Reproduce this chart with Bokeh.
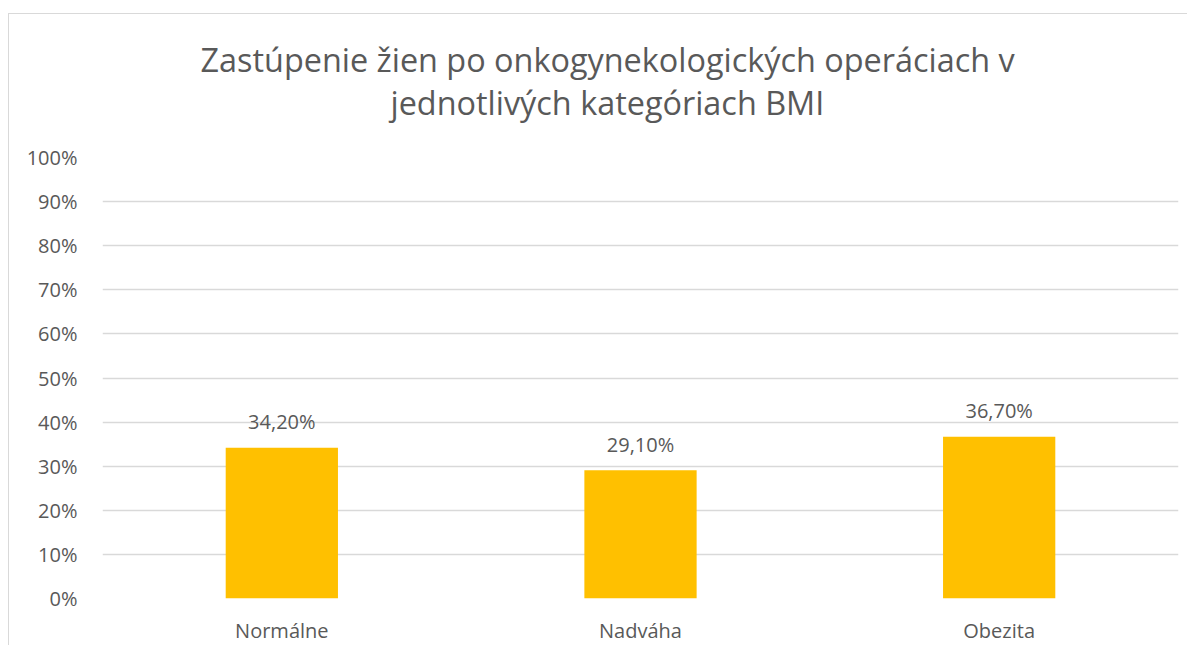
from bokeh.plotting import figure
from bokeh.models import ColumnDataSource, FixedTicker, PrintfTickFormatter, Title, Range1d, FactorRange
from bokeh.embed import file_html
from bokeh.resources import INLINE

categories = ["Normálne", "Nadváha", "Obezita"]
values = [34.2, 29.1, 36.7]
y_ticks = [0, 10, 20, 30, 40, 50, 60, 70, 80, 90, 100]
title_line1 = "Zastúpenie žien po onkogynekologických operáciach v"
title_line2 = "jednotlivých kategóriach BMI"

labels = [f"{v:.2f}".replace(".", ",") + "%" for v in values]
src = ColumnDataSource(dict(cat=categories, val=values, lab=labels))

FONT = "Open Sans"
GREY = "#595959"

p = figure(x_range=FactorRange(*categories, range_padding=0), y_range=Range1d(0, 100),
           width=1179, height=632, output_backend="svg", toolbar_location=None,
           min_border_left=93, min_border_right=10, min_border_bottom=46, min_border_top=143)
p.styles = {"border-top": "1px solid #D9D9D9", "border-left": "1px solid #D9D9D9",
            "margin": "13px 0px 0px 8px"}

p.title.text = title_line1
p.title.align = "left"
p.title.text_font = FONT
p.title.text_font_size = "32.4px"
p.title.text_font_style = "normal"
p.title.text_color = GREY
p.title.standoff = -73
p.title.offset = 98
t2 = Title(text=title_line2, align="left", text_font=FONT, text_font_size="32.4px",
           text_font_style="normal", text_color=GREY, standoff=67, offset=288)
p.add_layout(t2, "above")

p.vbar(x="cat", top="val", width=0.313, source=src, color="#FFC000", line_color=None)
p.text(x="cat", y="val", text="lab", source=src, text_align="center", text_baseline="alphabetic",
       y_offset=-26, text_font_size="20px", text_color=GREY, text_font={"value": FONT})

p.outline_line_color = None
p.background_fill_color = "white"
p.border_fill_color = "white"
p.xgrid.grid_line_color = None
p.ygrid.grid_line_color = "#D9D9D9"
p.ygrid.grid_line_width = 1.3
p.yaxis.ticker = FixedTicker(ticks=y_ticks)
p.yaxis.formatter = PrintfTickFormatter(format="%d%%")
for ax in (p.xaxis, p.yaxis):
    ax.axis_line_color = None
    ax.major_tick_line_color = None
    ax.minor_tick_line_color = None
    ax.major_label_text_font = FONT
    ax.major_label_text_font_size = "20px"
    ax.major_label_text_color = GREY
p.yaxis.major_label_standoff = 19
p.xaxis.major_label_standoff = 12

open("out.html", "w").write(file_html(p, INLINE))
